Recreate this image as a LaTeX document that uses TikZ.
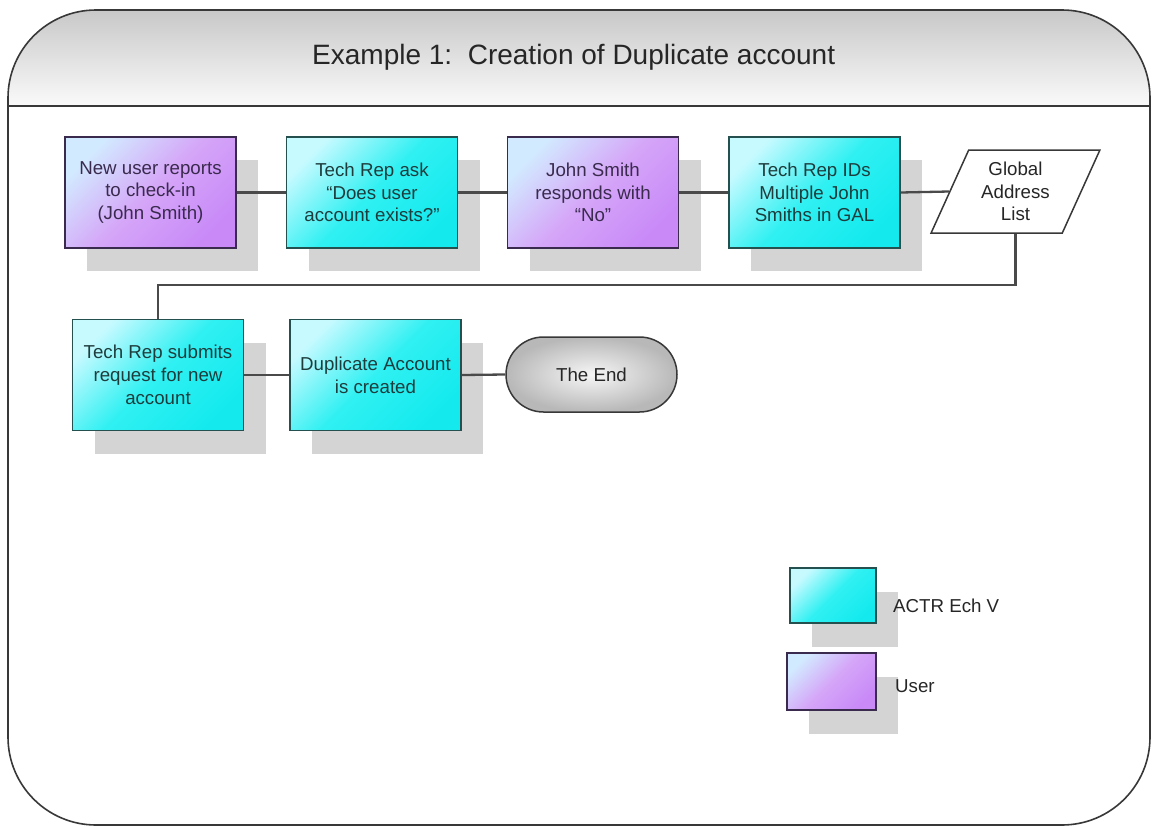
\documentclass[tikz,border=0pt]{standalone}
\usepackage{fontspec}
\setmainfont{Liberation Sans}
\usetikzlibrary{shapes.geometric,shapes.misc,shadows}

\definecolor{framegray}{HTML}{383838}
\definecolor{headtop}{HTML}{C8C8C8}
\definecolor{headbot}{HTML}{FAFAFA}
\definecolor{shadowgray}{HTML}{D4D4D4}
\definecolor{connline}{HTML}{4A4A4A}
\definecolor{techlight}{HTML}{C6FAFF}
\definecolor{techmid}{HTML}{30F0F2}
\definecolor{techdark}{HTML}{14EAEE}
\definecolor{techborder}{HTML}{24504F}
\definecolor{techtext}{HTML}{1E3C3C}
\definecolor{userlight}{HTML}{D2EAFF}
\definecolor{usermid}{HTML}{D5A6F8}
\definecolor{userdark}{HTML}{C98AF8}
\definecolor{userborder}{HTML}{3A2A4E}
\definecolor{usertext}{HTML}{3A2A4E}
\definecolor{endlight}{HTML}{F6F6F6}
\definecolor{enddark}{HTML}{B8B8B8}
\definecolor{textdark}{HTML}{262626}

\tikzset{
  boxfont/.style={font=\fontsize{18.7}{22.7}\selectfont},
  shade/.style={drop shadow={shadow xshift=22pt, shadow yshift=-23pt,
      fill=shadowgray, opacity=1}},
  flowbox/.style={boxfont, shape=rectangle, minimum width=171pt,
      minimum height=111pt, inner sep=0pt, align=center, line width=1.8pt, shade},
  techbox/.style={flowbox, draw=techborder, text=techtext,
      top color=techlight, bottom color=techdark, middle color=techmid,
      shading angle=45},
  userbox/.style={flowbox, draw=userborder, text=usertext,
      top color=userlight, bottom color=userdark, middle color=usermid,
      shading angle=45},
  keybox/.style={shape=rectangle, inner sep=0pt, line width=1.8pt,
      drop shadow={shadow xshift=22pt, shadow yshift=-24pt,
      fill=shadowgray, opacity=1}},
  datanode/.style={boxfont, shape=trapezium, trapezium left angle=65,
      trapezium right angle=115, trapezium stretches=true,
      minimum width=169pt, minimum height=83pt, inner sep=0pt,
      align=center, draw=framegray, fill=white, line width=1.5pt, text=textdark},
  endnode/.style={boxfont, shape=rounded rectangle, minimum width=171pt,
      minimum height=75pt, inner sep=0pt, draw=framegray, line width=1.5pt,
      inner color=endlight, outer color=enddark, text=textdark},
  conn/.style={draw=connline, line width=2.3pt},
  frameline/.style={draw=framegray, line width=1.6pt},
  keylabel/.style={boxfont, anchor=west, inner sep=0pt, text=textdark}
}

\begin{document}
\begin{tikzpicture}[x=1pt, y=-1pt]
\useasboundingbox (0,0) rectangle (1152,827);

% outer panel with shaded header band
\begin{scope}
  \clip[rounded corners=88pt] (8,10) rectangle (1150,825);
  \fill[top color=headtop, bottom color=headbot] (0,10) rectangle (1152,106);
\end{scope}
\draw[frameline, rounded corners=88pt] (8,10) rectangle (1150,825);
\draw[frameline, line width=2pt] (8,106) -- (1150,106);

\node[text=textdark, font=\fontsize{28}{32}\selectfont, anchor=base west,
  inner sep=0pt] (title) at (312,64.3)
  {Example 1:\ \ Creation of Duplicate account};

% first row
\node[userbox] (b1) at (150.5,192.5) {New user reports\\to check-in\\(John Smith)};
\node[techbox] (b2) at (372,192.5) {Tech Rep ask\\“Does user\\account exists?”};
\node[userbox] (b3) at (593,192.5) {John Smith\\responds with\\“No”};
\node[techbox] (b4) at (814.5,192.5) {Tech Rep IDs\\Multiple John\\Smiths in GAL};
\node[datanode] (gal) at (1015.5,191.5) {Global\\Address\\List};

% second row
\node[techbox] (b5) at (158,375) {Tech Rep submits\\request for new\\account};
\node[techbox] (b6) at (375.5,375) {Duplicate Account\\is created};
\node[endnode] (end) at (591.5,374.5) {The End};

% connectors
\draw[conn] (b1.east) -- (b2.west);
\draw[conn] (b2.east) -- (b3.west);
\draw[conn] (b3.east) -- (b4.west);
\draw[conn] (b4.east) -- (gal.west);
\draw[conn] (gal.south) -- ++(0,51) -| (b5.north);
\draw[conn] (b5.east) -- (b6.west);
\draw[conn] (b6.east) -- (end.west);

% key
\node[keybox, minimum width=86pt, minimum height=55pt, draw=techborder,
  top color=techlight, bottom color=techdark, middle color=techmid,
  shading angle=45] (keytech) at (833,595.5) {};
\node[keybox, minimum width=89pt, minimum height=57pt, draw=userborder,
  top color=userlight, bottom color=userdark, middle color=usermid,
  shading angle=45] (keyuser) at (831.5,681.5) {};
\node[keylabel] (keytechlabel) at (893,606) {ACTR Ech V};
\node[keylabel] (keyuserlabel) at (895,686) {User};
\end{tikzpicture}
\end{document}
